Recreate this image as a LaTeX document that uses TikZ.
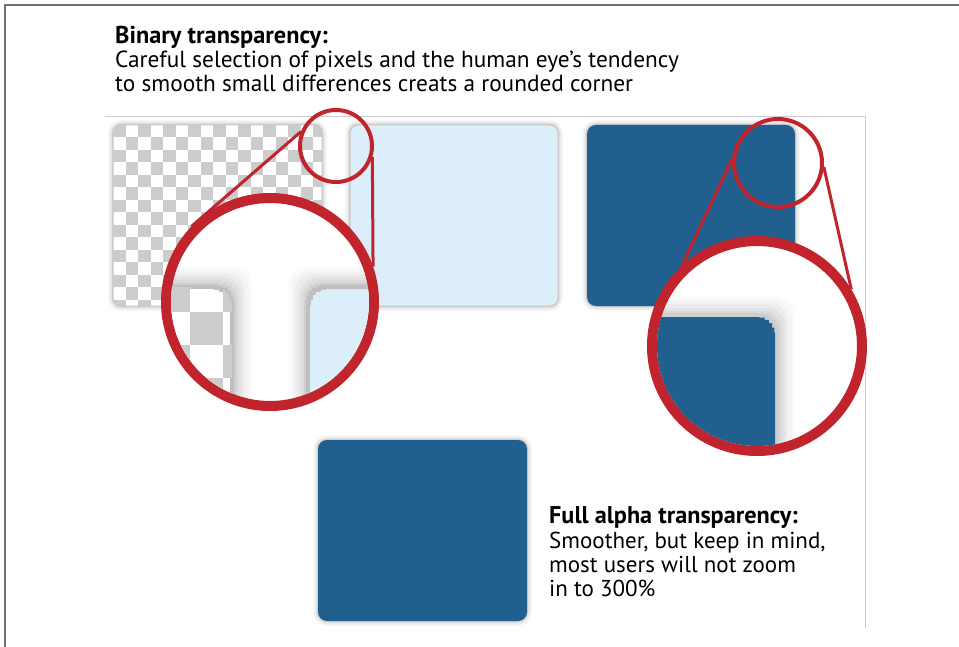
\documentclass[tikz,border=0pt]{standalone}
\usepackage{fontspec}
\setmainfont{PT Sans}
\usepackage{xcolor}
\usepackage{tikz}
\definecolor{lensred}{RGB}{193,36,45}
\definecolor{deepblue}{RGB}{32,95,142}
\definecolor{paleblue}{RGB}{221,238,251}
\definecolor{chk}{RGB}{204,204,204}
\definecolor{rim}{RGB}{112,112,112}

% vergrote stukjes, met trapjes in de hoek
\newcommand{\chkpiece}{(140,287) -- (210,287)
  \foreach \k in {1,...,6} {-| ({210+22*cos(90-15*\k)},{309-22*sin(90-15*\k)})}
  -- (232,420) -- (140,420) -- cycle}
\newcommand{\palepiece}{(420,287) -- (330,287)
  \foreach \k in {1,...,6} {-| ({330+22*cos(90+15*\k)},{309-22*sin(90+15*\k)})}
  -- (308,420) -- (420,420) -- cycle}
\newcommand{\deeppiece}{(630,317) -- (754,317)
  \foreach \k in {1,...,6} {-| ({754+21*cos(90-15*\k)},{338-21*sin(90-15*\k)})}
  -- (775,470) -- (630,470) -- cycle}

\begin{document}
\begin{tikzpicture}[x=1pt, y=-1pt,
    txt/.style={anchor=base west, inner sep=0pt, font=\fontsize{23.3}{24}\selectfont},
    ttl/.style={txt, font=\fontsize{24.3}{24}\selectfont\bfseries},
    txtb/.style={txt, font=\fontsize{23}{24}\selectfont},
    ttlb/.style={txt, font=\fontsize{24.2}{24}\selectfont\bfseries},
    soft/.style={preaction={draw=black, draw opacity=0.03, line width=10pt},
                 preaction={draw=black, draw opacity=0.04, line width=7pt},
                 preaction={draw=black, draw opacity=0.05, line width=4pt},
                 preaction={draw=black, draw opacity=0.08, line width=2pt}},
    lensglow/.style={preaction={draw=black, draw opacity=0.02, line width=40pt},
                     preaction={draw=black, draw opacity=0.025, line width=33pt},
                     preaction={draw=black, draw opacity=0.03, line width=26pt},
                     preaction={draw=black, draw opacity=0.035, line width=19pt},
                     preaction={draw=black, draw opacity=0.04, line width=13pt},
                     preaction={draw=black, draw opacity=0.05, line width=8pt}},
    ringsmall/.style={circle, draw=lensred, line width=4pt, inner sep=0pt, minimum size=#1},
    ringbig/.style={circle, draw=lensred, fill=white, line width=10pt, inner sep=0pt, minimum size=#1},
    beam/.style={draw=lensred, line width=3pt}]

    \useasboundingbox (0,0) rectangle (959,647);

    % kaders
    \draw[rim, line width=1.5pt] (5,647) -- (5,5) -- (959,5);
    \draw[black!20, line width=0.8pt] (105,116) -- (865,116) -- (865,628);

    % tekst boven
    \node[ttl] (headA) at (115,44) {Binary transparency:};
    \node[txt] (lineA1) at (115,68) {Careful selection of pixels and the human eye’s tendency};
    \node[txt] (lineA2) at (115,92) {to smooth small differences creats a rounded corner};

    % blokken
    \fill[white, soft, draw=black!22, line width=1pt, rounded corners=8pt] (113,125) rectangle (322,306);
    \begin{scope}
        \clip[rounded corners=8pt] (113,125) rectangle (322,306);
        \foreach \r in {0,...,14}
            \foreach \c in {0,2,...,16}
                \fill[chk] ({113+12.5*(\c+mod(\r,2))},{125+12.5*\r}) rectangle +(12.5,12.5);
    \end{scope}
    \filldraw[fill=paleblue, draw=black!22, line width=1pt, soft, rounded corners=8pt] (350,125) rectangle (558,306);
    \fill[deepblue, soft, rounded corners=9pt] (587,125) rectangle (795,306);
    \fill[deepblue, soft, rounded corners=9pt] (318,440) rectangle (527,621);

    % loep links
    \node[ringsmall=72pt] (peekL) at (336,146) {};
    \node[ringbig=208pt] (zoomL) at (270,302) {};
    \begin{scope}
        \clip (zoomL.center) circle (99pt);
        \filldraw[fill=white, draw=black!25, line width=4pt, lensglow] \chkpiece;
        \begin{scope}
            \clip \chkpiece;
            \foreach \r in {-1,...,4}
                \foreach \c in {-2,0}
                    \fill[chk] ({190+33*(\c+mod(\r+2,2))},{312+33*\r}) rectangle +(33,33);
        \end{scope}
        \filldraw[fill=paleblue, draw=black!25, line width=4pt, lensglow] \palepiece;
    \end{scope}
    \draw[beam] (peekL.158) -- (zoomL.136);
    \draw[beam] (peekL.343) -- (zoomL.19);

    % loep rechts
    \node[ringsmall=88pt] (peekR) at (778,163) {};
    \node[ringbig=210pt] (zoomR) at (757,346) {};
    \begin{scope}
        \clip (zoomR.center) circle (100pt);
        \fill[deepblue, lensglow] \deeppiece;
    \end{scope}
    \draw[beam] (peekR.175) -- (zoomR.133);
    \draw[beam] (peekR.355) -- (zoomR.31);

    % tekst onder
    \node[ttlb] (headB) at (549,523) {Full alpha transparency:};
    \node[txtb] (lineB1) at (549,548) {Smoother, but keep in mind,};
    \node[txtb] (lineB2) at (549,572) {most users will not zoom};
    \node[txtb] (lineB3) at (549,596) {in to 300\%};

\end{tikzpicture}
\end{document}
